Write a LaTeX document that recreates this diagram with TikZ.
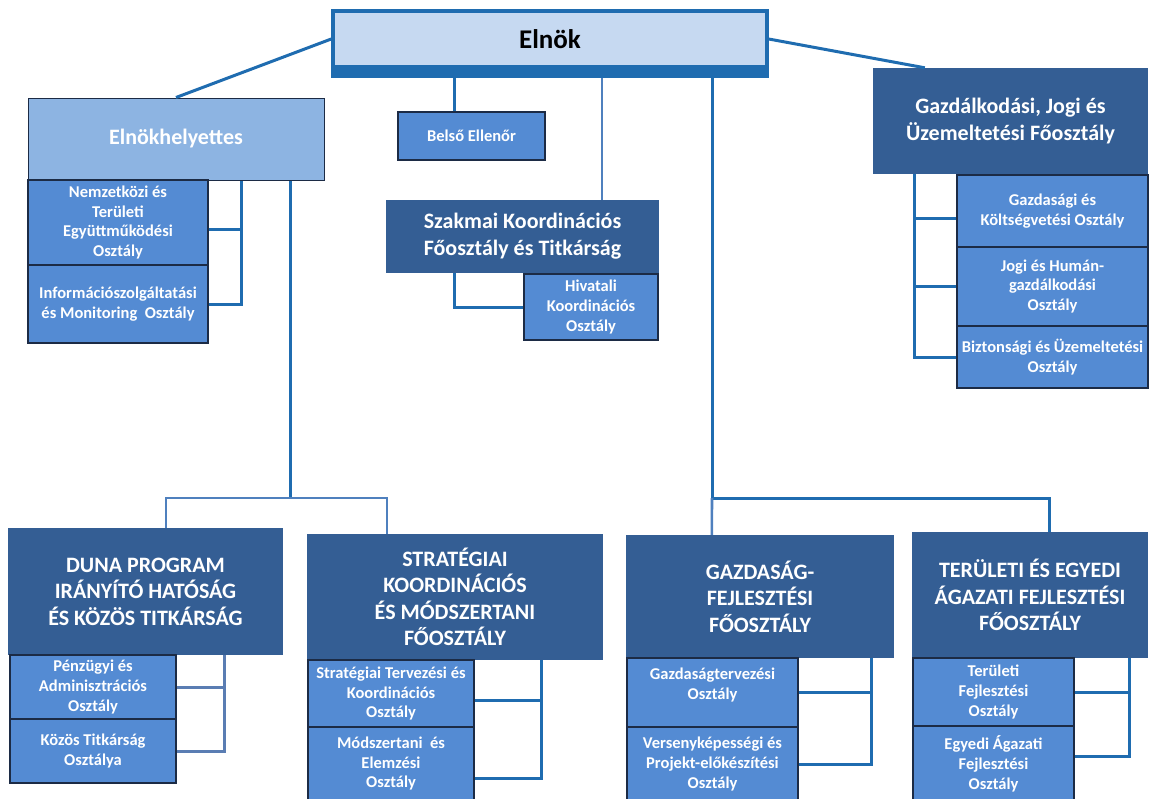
\documentclass[tikz,border=0pt]{standalone}
\usepackage{fontspec}
\setmainfont{Carlito}
\usetikzlibrary{positioning}

\definecolor{linkblue}{HTML}{1F6CB0}
\definecolor{palelink}{HTML}{4F80BE}
\definecolor{greylink}{HTML}{5A7DB3}
\definecolor{elnokfill}{HTML}{C6D9F1}
\definecolor{deputyfill}{HTML}{8DB4E2}
\definecolor{mainfill}{HTML}{345E94}
\definecolor{subfill}{HTML}{548BD3}
\definecolor{edgenavy}{HTML}{1C2B45}

\tikzset{
  wh/.style 2 args={minimum width=#1, minimum height=#2},
  box/.style={rectangle, inner sep=0pt, align=center, text=white},
  chief/.style={box, fill=elnokfill, draw=linkblue, line width=3.5pt, text=black,
    font=\bfseries\fontsize{27}{31}\selectfont},
  deputy/.style={box, fill=deputyfill, draw=edgenavy, line width=1pt,
    font=\bfseries\fontsize{22}{26}\selectfont},
  head/.style={box, fill=mainfill, font=\bfseries\fontsize{22}{27}\selectfont},
  dept/.style={box, fill=mainfill, font=\bfseries\fontsize{22}{26.5}\selectfont},
  unit/.style={box, fill=subfill, draw=edgenavy, line width=1.3pt,
    font=\bfseries\fontsize{16.5}{19.8}\selectfont},
  link/.style={linkblue, line width=3pt},
  softlink/.style={palelink, line width=2.6pt},
}

\begin{document}
\begin{tikzpicture}[x=1pt,y=-1pt]
    \useasboundingbox (0,0) rectangle (1150,798);
    \clip (0,0) rectangle (1150,798);

    % top level
    \node[chief, wh={434pt}{56pt}] (elnok) at (550,39) {Elnök};
    \node[deputy, wh={296pt}{82pt}] (helyettes) at (176,139) {Elnökhelyettes};
    \node[unit, wh={180pt}{85pt}] (nemz) at (118,222.5) {Nemzetközi és\\Területi\\Együttműködési\\Osztály};
    \node[unit, wh={180pt}{78pt}] (info) at (118,304) {Információszolgáltatási\\és Monitoring~ Osztály};
    \node[unit, wh={147pt}{48pt}] (belso) at (471.5,136) {Belső Ellenőr};
    \node[head, wh={273pt}{73pt}] (szak) at (522.5,236.5) {Szakmai Koordinációs\\Főosztály és Titkárság};
    \node[unit, wh={134pt}{66pt}] (hiv) at (591,307) {Hivatali\\Koordinációs\\Osztály};
    \node[head, wh={275pt}{106pt}] (gjf) at (1010.5,121) {Gazdálkodási, Jogi és\\Üzemeltetési Főosztály};
    \node[unit, wh={191pt}{72pt}] (gko) at (1052.5,211) {Gazdasági és\\Költségvetési Osztály};
    \node[unit, wh={191pt}{79pt}] (jho) at (1052.5,286.5) {Jogi és Humán-\\gazdálkodási\\Osztály};
    \node[unit, wh={191pt}{62pt}] (bueo) at (1052.5,357) {Biztonsági és Üzemeltetési\\Osztály};

    % lower level
    \node[dept, wh={275pt}{127pt}] (duna) at (145.5,591.5) {DUNA PROGRAM\\IRÁNYÍTÓ HATÓSÁG\\ÉS KÖZÖS TITKÁRSÁG};
    \node[unit, wh={166pt}{64pt}] (pao) at (93,687) {Pénzügyi és\\Adminisztrációs\\Osztály};
    \node[unit, wh={166pt}{64pt}] (kto) at (93,751) {Közös Titkárság\\Osztálya};
    \node[dept, wh={296pt}{126pt}] (strat) at (455,597) {STRATÉGIAI\\KOORDINÁCIÓS\\ÉS MÓDSZERTANI\\FŐOSZTÁLY};
    \node[unit, wh={166pt}{67pt}] (stko) at (391,693.5) {Stratégiai Tervezési és\\Koordinációs\\Osztály};
    \node[unit, wh={166pt}{73pt}] (meo) at (391,763.5) {Módszertani~ és\\Elemzési\\Osztály};
    \node[dept, wh={268pt}{123pt}] (gfo) at (760,596.5) {GAZDASÁG-\\FEJLESZTÉSI\\FŐOSZTÁLY};
    \node[unit, wh={171pt}{69pt}] (gto) at (712.5,692.5) {Gazdaságtervezési\\Osztály\\[-2pt]};
    \node[unit, wh={171pt}{74pt}] (vpo) at (712.5,764) {Versenyképességi és\\Projekt-előkészítési\\Osztály};
    \node[dept, wh={236pt}{126pt}] (tef) at (1030,595) {TERÜLETI ÉS EGYEDI\\ÁGAZATI FEJLESZTÉSI\\FŐOSZTÁLY};
    \node[unit, wh={161pt}{68pt}] (tfo) at (993.5,692) {Területi\\Fejlesztési\\Osztály};
    \node[unit, wh={161pt}{76pt}] (eafo) at (993.5,764) {Egyedi Ágazati\\Fejlesztési\\Osztály};

    \coordinate (ljunc) at (290,498);
    \coordinate (rjunc) at (712,498);

    % connectors from the top
    \draw[link] (elnok.west) -- (helyettes.north);
    \draw[link] (elnok.east) -- ([xshift=52pt]gjf.north west);
    \draw[link] ([xshift=57pt]belso.north west) -- ([xshift=57pt]belso.north west |- elnok.south);
    \draw[softlink, line width=2pt] ([xshift=216pt]szak.north west) -- ([xshift=216pt]szak.north west |- elnok.south);
    \draw[link] ([xshift=69pt]szak.south west) |- (hiv.west);
    \draw[link] (elnok.south -| rjunc) -- (rjunc) -| ([xshift=138pt]tef.north west);
    \draw[softlink] (rjunc) -- ([xshift=86pt]gfo.north west);
    \draw[link] (helyettes.south -| ljunc) -- (ljunc);
    \draw[softlink] ([xshift=158pt]duna.north west) |- (ljunc) -| ([xshift=80pt]strat.north west);
    \fill[linkblue] (elnok.south west) rectangle ([yshift=-9pt]elnok.south east);

    % brackets to the departments
    \draw[link] ([yshift=-6.5pt]nemz.east) -| ([xshift=214pt]helyettes.south west);
    \draw[link] (info.east) -| ([xshift=214pt]helyettes.south west);
    \draw[link] ([yshift=-7pt]gko.west) -| ([xshift=42pt]gjf.south west);
    \draw[link] (jho.west) -| ([xshift=42pt]gjf.south west);
    \draw[link] (bueo.west) -| ([xshift=42pt]gjf.south west);
    \draw[greylink, line width=3pt] (pao.east) -| ([xshift=217pt]duna.south west);
    \draw[greylink, line width=3pt] (kto.east) -| ([xshift=217pt]duna.south west);
    \draw[link] ([yshift=-6.5pt]stko.east) -| ([xshift=235pt]strat.south west);
    \draw[link] ([yshift=-14.5pt]meo.east) -| ([xshift=235pt]strat.south west);
    \draw[link] (gto.east) -| ([xshift=246pt]gfo.south west);
    \draw[link] (vpo.east) -| ([xshift=246pt]gfo.south west);
    \draw[link] (tfo.east) -| ([xshift=218pt]tef.south west);
    \draw[link] ([yshift=8pt]eafo.east) -| ([xshift=218pt]tef.south west);
\end{tikzpicture}
\end{document}
